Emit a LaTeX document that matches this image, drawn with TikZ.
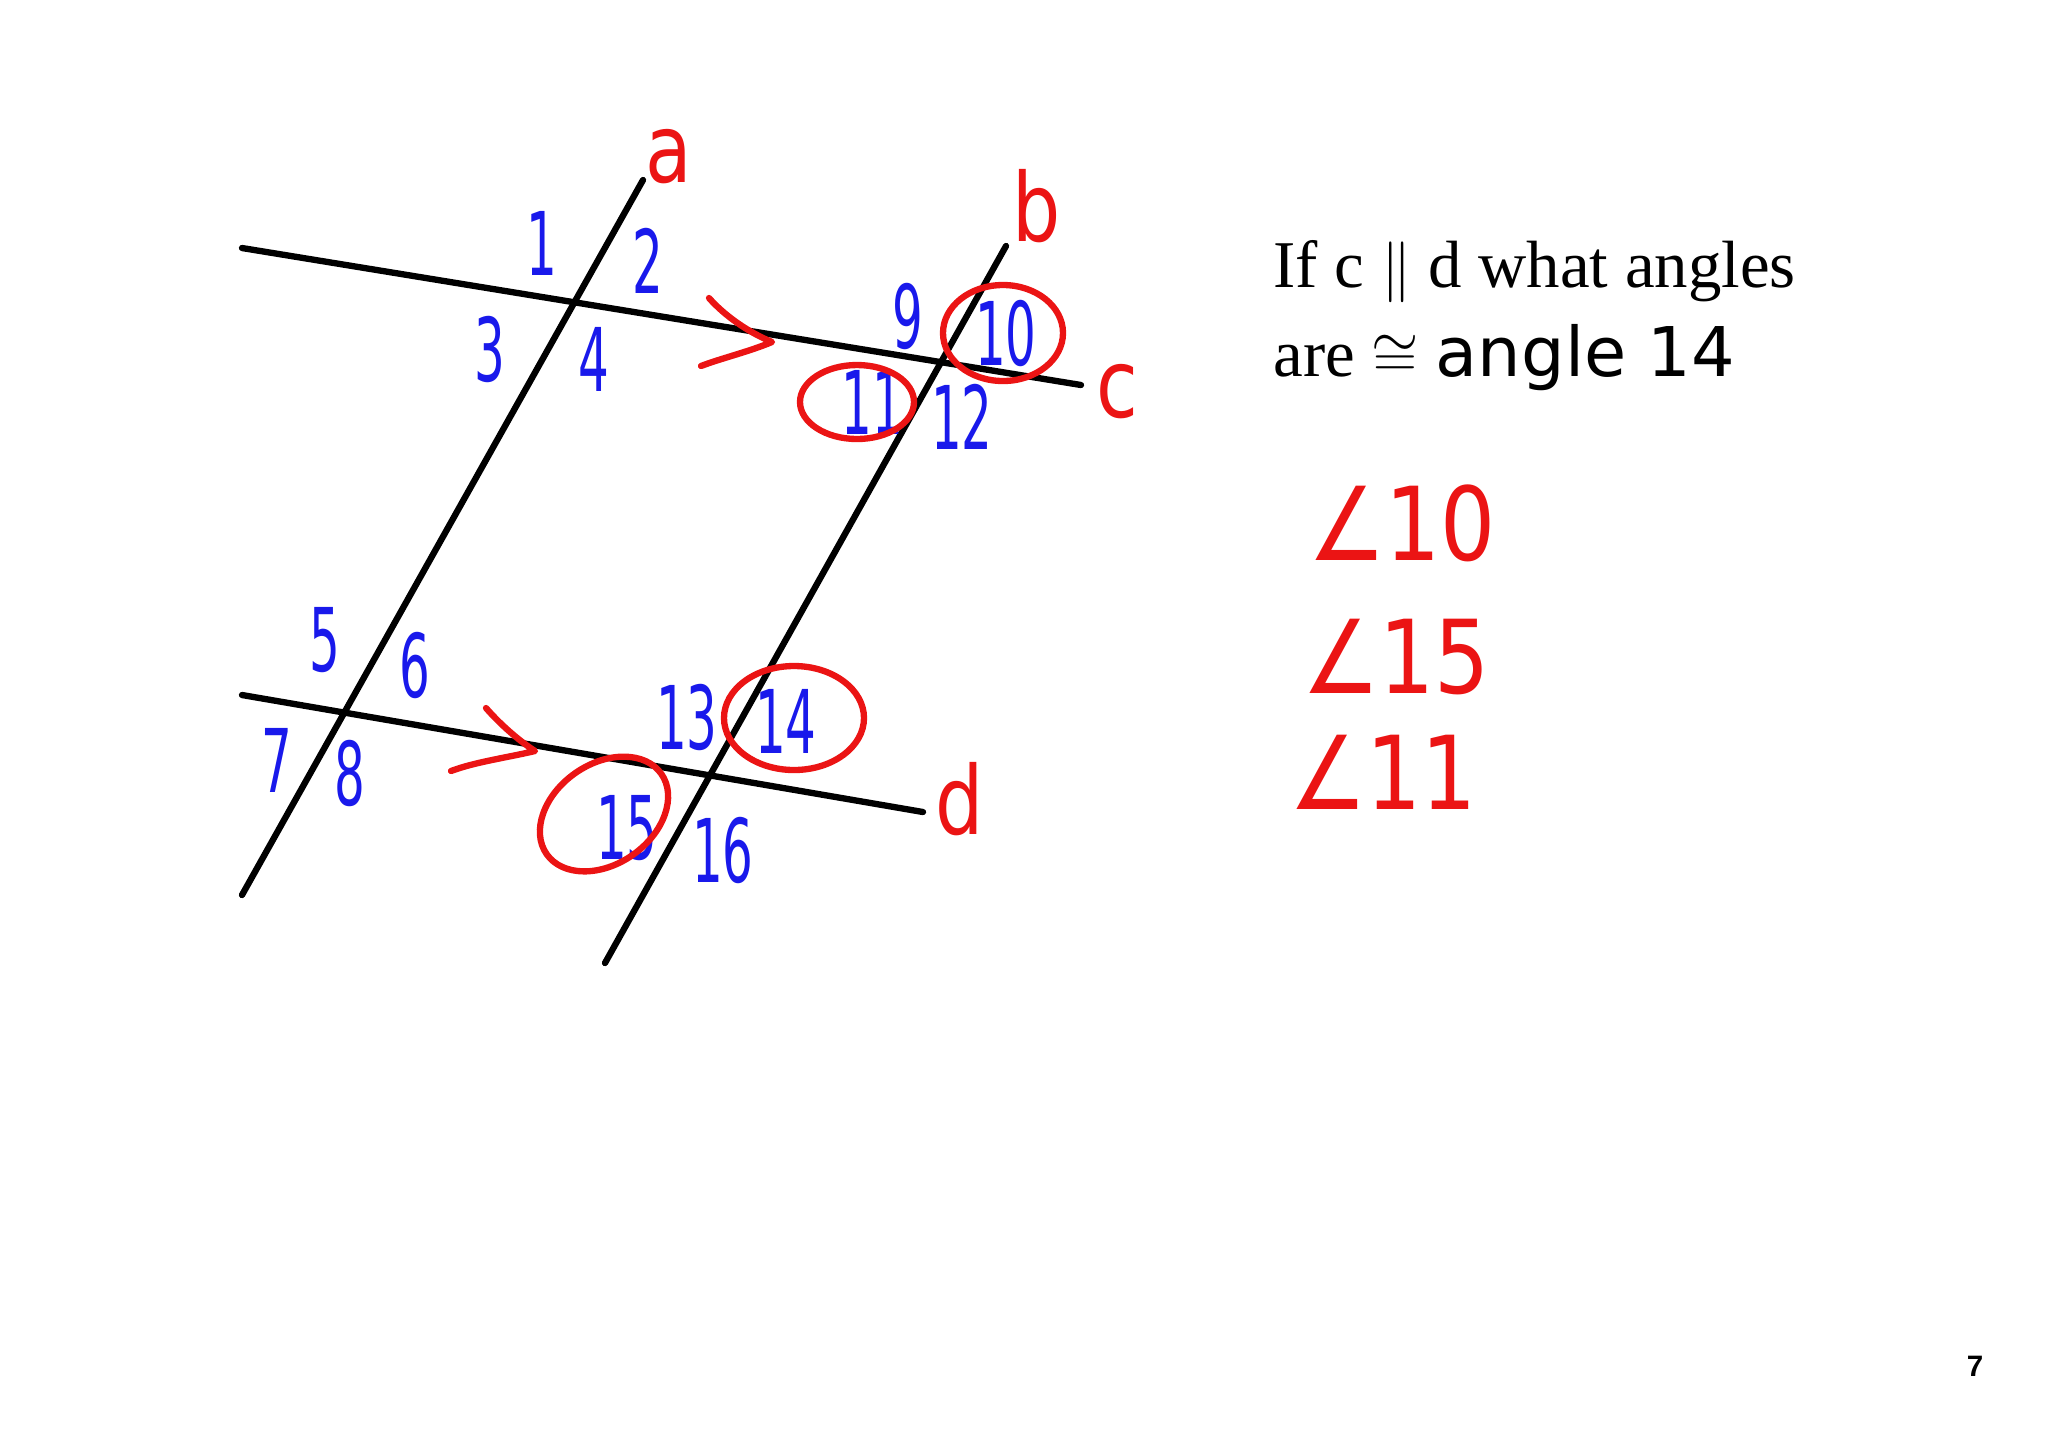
\documentclass[tikz,border=0pt]{standalone}
\usepackage{fontspec}
\setmainfont{Liberation Serif}
\newfontfamily\handfont[FakeStretch=0.55]{DejaVu Sans}
\newfontfamily\letterfont[FakeStretch=0.8]{DejaVu Sans}
\newfontfamily\anglefont[FakeStretch=0.85]{DejaVu Sans}
\newfontfamily\plainsans{DejaVu Sans}
\newfontfamily\pagefont{Liberation Sans}
\usetikzlibrary{positioning}
\definecolor{penred}{RGB}{235,20,20}
\definecolor{penblue}{RGB}{25,25,235}

\begin{document}
\begin{tikzpicture}[x=0.01cm,y=-0.01cm,
  line/.style={line width=1.8pt,line cap=round},
  num/.style={text=penblue,font=\handfont\fontsize{25}{25}\selectfont,inner sep=0pt},
  letter/.style={text=penred,font=\letterfont\fontsize{27}{27}\selectfont,inner sep=0pt},
  ring/.style={draw=penred,line width=1.8pt},
  chev/.style={draw=penred,line width=1.8pt,line cap=round,line join=round},
  angl/.style={text=penred,font=\anglefont\fontsize{29}{29}\selectfont,inner sep=0pt}]
\useasboundingbox (0,0) rectangle (2048,1447);
\coordinate (a1) at (643,180);
\coordinate (a2) at (242,895);
\coordinate (b1) at (1006,246);
\coordinate (b2) at (605,963);
\coordinate (c1) at (242,248);
\coordinate (c2) at (1081,385);
\coordinate (d1) at (242,695);
\coordinate (d2) at (923,812);
\draw[line] (a1) -- (a2);
\draw[line] (b1) -- (b2);
\draw[line] (c1) -- (c2);
\draw[line] (d1) -- (d2);

\node[letter] (la) at (669,157) {a};
\node[letter] (lb) at (1037,206) {b};
\node[letter] (lc) at (1117,392) {c};
\node[letter] (ld) at (960,799) {d};

\node[num] (n1) at (542,243) {1};
\node[num] (n2) at (648,261) {2};
\node[num] (n3) at (490,349) {3};
\node[num] (n4) at (594,359) {4};
\node[num] (n5) at (325,640) {5};
\node[num] (n6) at (415,665) {6};
\node[num] (n7) at (277,760) {7};
\node[num] (n8) at (350,773) {8};
\node[num] (n9) at (908,316) {9};
\node[num] (n10) at (1006,333) {10};
\node[num] (n11) at (872,402) {11};
\node[num] (n12) at (962,417) {12};
\node[num] (n13) at (687,717) {13};
\node[num] (n14) at (786,721) {14};
\node[num] (n15) at (627,828) {15};
\node[num] (n16) at (723,850) {16};

\draw[ring] (1003,333) ellipse [x radius=60,y radius=48];
\draw[ring] (857,402) ellipse [x radius=57,y radius=37];
\draw[ring] (794,718) ellipse [x radius=70,y radius=52];
\draw[ring,rotate around={35:(604,814)}] (604,814) ellipse [x radius=70,y radius=50];

\draw[chev] (709,298) .. controls (725,316) and (748,332) .. (772,342)
  .. controls (748,352) and (722,358) .. (701,366);
\draw[chev] (486,708) .. controls (500,724) and (518,740) .. (535,751)
  .. controls (505,758) and (475,762) .. (451,771);

\node[anchor=base west,inner sep=0pt,font=\fontsize{19}{19}\selectfont] (q1) at (1273,287) {If c $\|$ d what angles};
\node[anchor=base west,inner sep=0pt,font=\fontsize{19}{19}\selectfont] (q2) at (1273,376) {are $\cong$ {\plainsans\fontsize{19.5}{19.5}\selectfont angle 14}};

\node[angl] (an10) at (1402,523) {∠10};
\node[angl] (an15) at (1396,657) {∠15};
\node[angl] (an11) at (1383,772) {∠11};

\node[font=\pagefont\bfseries\fontsize{8.4}{8.4}\selectfont,inner sep=0pt] (pg) at (1975,1366) {7};
\end{tikzpicture}
\end{document}
